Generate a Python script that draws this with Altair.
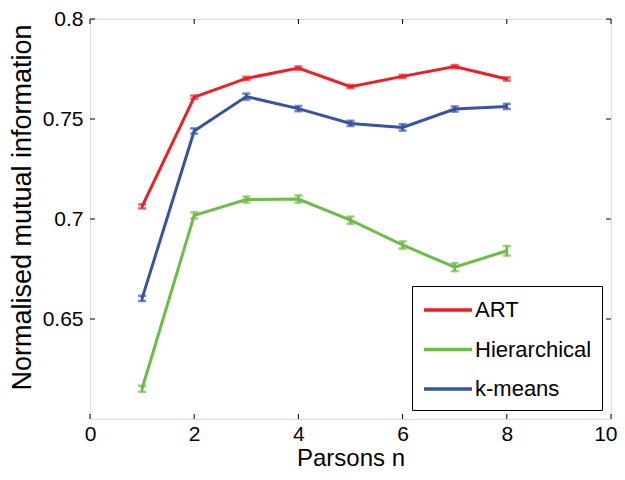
import altair as alt
import pandas as pd

# ---- data ----
parsons_n = [1, 2, 3, 4, 5, 6, 7, 8]
series_names = ["ART", "Hierarchical", "k-means"]
art_nmi = [0.7063, 0.7609, 0.7703, 0.7755, 0.7662, 0.7713, 0.7762, 0.7700]
art_err = [0.0010, 0.0008, 0.0008, 0.0008, 0.0008, 0.0008, 0.0008, 0.0008]
hier_nmi = [0.6151, 0.7018, 0.7097, 0.7100, 0.6994, 0.6870, 0.6759, 0.6841]
hier_err = [0.0015, 0.0015, 0.0015, 0.0018, 0.0018, 0.0018, 0.0020, 0.0024]
kmeans_nmi = [0.6603, 0.7440, 0.7612, 0.7552, 0.7478, 0.7458, 0.7550, 0.7563]
kmeans_err = [0.0013, 0.0013, 0.0015, 0.0013, 0.0013, 0.0016, 0.0013, 0.0013]
series_colors = ["#ed1f26", "#6cbd45", "#3953a4"]
x_ticks = [0, 2, 4, 6, 8, 10]
y_ticks = [0.65, 0.7, 0.75, 0.8]

rows = []
for name, vals, errs in [("ART", art_nmi, art_err),
                         ("Hierarchical", hier_nmi, hier_err),
                         ("k-means", kmeans_nmi, kmeans_err)]:
    for n, v, e in zip(parsons_n, vals, errs):
        rows.append({"n": n, "nmi": v, "lo": v - e, "hi": v + e, "method": name})
df = pd.DataFrame(rows)
xt = pd.DataFrame({"t": x_ticks})
yt = pd.DataFrame({"t": y_ticks})

W, H = 521, 400
FONT = "Liberation Sans"

xscale = alt.Scale(domain=[0, 10], nice=False)
yscale = alt.Scale(domain=[0.6, 0.8], nice=False, zero=False)
color = alt.Color("method:N",
                  scale=alt.Scale(domain=series_names, range=series_colors),
                  legend=alt.Legend(title=None, orient="none", legendX=322, legendY=267,
                                    padding=10, strokeColor="black", fillColor="white",
                                    labelFontSize=22, labelFont=FONT, labelColor="black",
                                    symbolType="M-2,0H2", symbolSize=576, symbolOffset=12,
                                    symbolStrokeWidth=3.5, labelOffset=13, rowPadding=14.5))
color_nolegend = alt.Color("method:N",
                           scale=alt.Scale(domain=series_names, range=series_colors),
                           legend=None)

xaxis = alt.Axis(values=x_ticks, format="d", title="Parsons n", ticks=False, domain=False,
                 grid=False, labelFlush=False, labelOverlap=False, labelFontSize=21,
                 labelAlign={"condition": {"test": "datum.value == 10", "value": "right"},
                             "value": "center"},
                 labelOffset={"condition": {"test": "datum.value == 10", "value": 6},
                              "value": 0},
                 labelPadding=4, titleFontSize=24, titleFontWeight="normal", titlePadding=2,
                 labelFont=FONT, titleFont=FONT, labelColor="black", titleColor="black")
yaxis = alt.Axis(values=y_ticks, format="~g", title="Normalised mutual information",
                 ticks=False, domain=False, grid=False, labelFlush=False, labelOverlap=False,
                 labelFontSize=21, labelPadding=7, titleFontSize=27, titleY=188,
                 titleFontWeight="normal", titlePadding=6, labelFont=FONT, titleFont=FONT,
                 labelColor="black", titleColor="black")

base = alt.Chart(df)
lines = base.mark_line(strokeWidth=3).encode(
    x=alt.X("n:Q", scale=xscale, axis=xaxis),
    y=alt.Y("nmi:Q", scale=yscale, axis=yaxis),
    color=color,
)
bars = base.mark_rule(strokeWidth=2.5).encode(
    x="n:Q", y="lo:Q", y2="hi:Q", color=color_nolegend)
cap_lo = base.mark_tick(orient="horizontal", size=8, thickness=2.5).encode(
    x="n:Q", y="lo:Q", color=color_nolegend)
cap_hi = base.mark_tick(orient="horizontal", size=8, thickness=2.5).encode(
    x="n:Q", y="hi:Q", color=color_nolegend)

tk = dict(color="black", strokeWidth=1)
xt_bot = alt.Chart(xt).mark_rule(**tk).encode(x="t:Q", y=alt.value(H), y2=alt.value(H - 5))
xt_top = alt.Chart(xt).mark_rule(**tk).encode(x="t:Q", y=alt.value(0), y2=alt.value(5))
yt_l = alt.Chart(yt).mark_rule(**tk).encode(y="t:Q", x=alt.value(0), x2=alt.value(5))
yt_r = alt.Chart(yt).mark_rule(**tk).encode(y="t:Q", x=alt.value(W), x2=alt.value(W - 5))

chart = alt.layer(xt_bot, xt_top, yt_l, yt_r, lines, bars, cap_lo, cap_hi).properties(
    width=W, height=H,
    autosize=alt.AutoSizeParams(type="none"),
    padding={"left": 82, "top": 11, "right": 6, "bottom": 52},
).configure_view(stroke="black", strokeWidth=1.5).configure(background="white")

chart.save("out.html", embed_options={"renderer": "svg", "actions": False})
